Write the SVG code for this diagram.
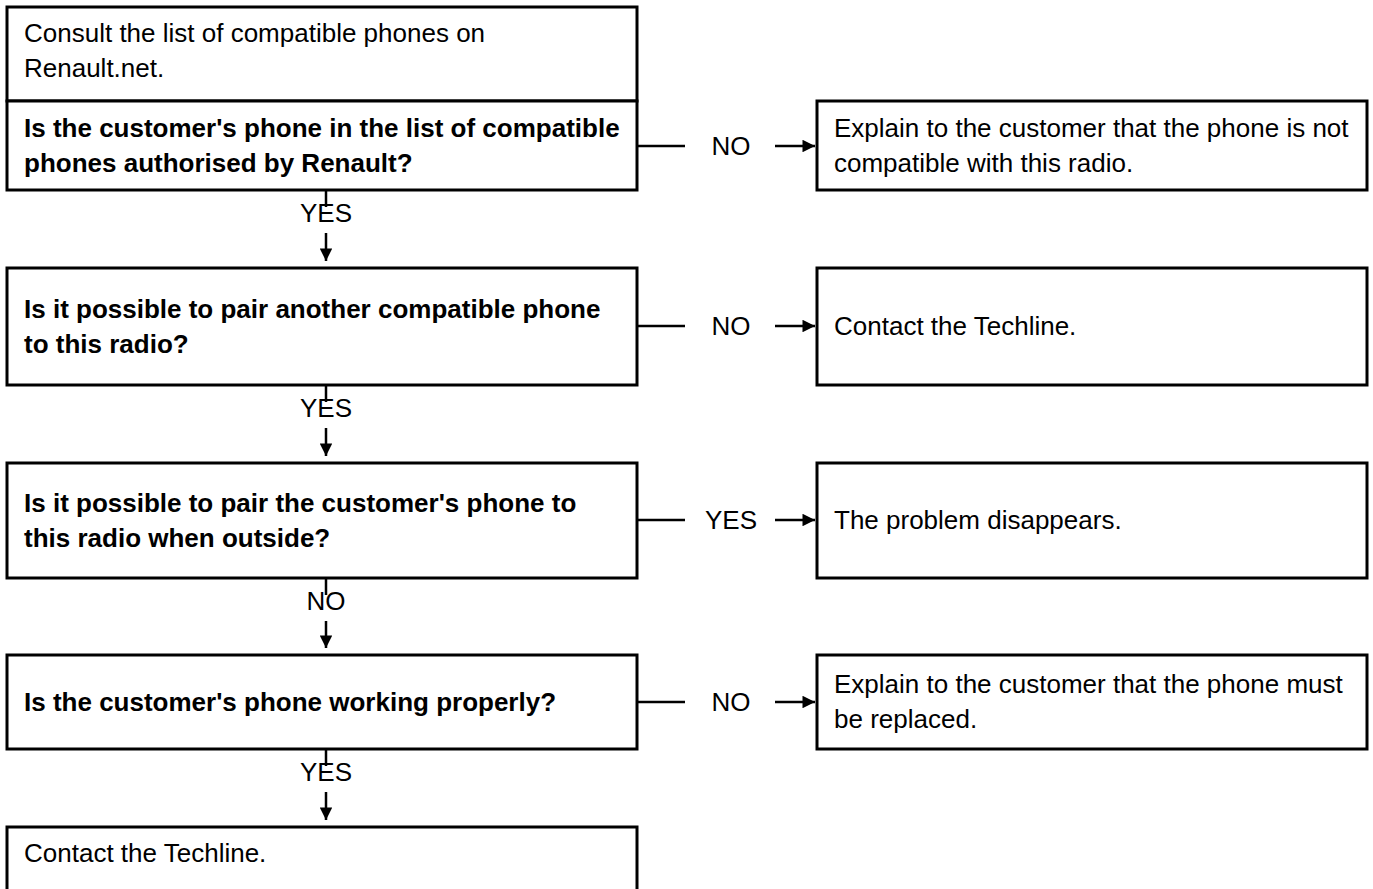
<svg xmlns="http://www.w3.org/2000/svg" width="1373" height="889" viewBox="0 0 1373 889">
<defs>
<marker id="arr" viewBox="0 0 10 10" refX="10" refY="5" markerWidth="5.5" markerHeight="5" orient="auto" markerUnits="strokeWidth">
<path d="M0,0 L10,5 L0,10 z" fill="#000"/>
</marker>
<style>
.box{fill:#fff;stroke:#000;stroke-width:3}
.t{font-family:"Liberation Sans",Arial,sans-serif;font-size:26px;fill:#000}
.b{font-weight:bold}
.lbl{font-family:"Liberation Sans",Arial,sans-serif;font-size:26px;fill:#000;text-anchor:middle}
.ln{stroke:#000;stroke-width:2.5;fill:none}
</style>
</defs>
<rect width="1373" height="889" fill="#fff"/>
<g id="connectors">
<line class="ln" x1="637" y1="146" x2="685" y2="146"/>
<text class="lbl" x="731" y="155">NO</text>
<line class="ln" x1="775" y1="146" x2="815" y2="146" marker-end="url(#arr)"/>
<line class="ln" x1="326" y1="190" x2="326" y2="207"/>
<text class="lbl" x="326" y="222">YES</text>
<line class="ln" x1="326" y1="233" x2="326" y2="261" marker-end="url(#arr)"/>
<line class="ln" x1="637" y1="326" x2="685" y2="326"/>
<text class="lbl" x="731" y="335">NO</text>
<line class="ln" x1="775" y1="326" x2="815" y2="326" marker-end="url(#arr)"/>
<line class="ln" x1="326" y1="385" x2="326" y2="402"/>
<text class="lbl" x="326" y="417">YES</text>
<line class="ln" x1="326" y1="428" x2="326" y2="456" marker-end="url(#arr)"/>
<line class="ln" x1="637" y1="520" x2="685" y2="520"/>
<text class="lbl" x="731" y="529">YES</text>
<line class="ln" x1="775" y1="520" x2="815" y2="520" marker-end="url(#arr)"/>
<line class="ln" x1="326" y1="578" x2="326" y2="595"/>
<text class="lbl" x="326" y="610">NO</text>
<line class="ln" x1="326" y1="621" x2="326" y2="648" marker-end="url(#arr)"/>
<line class="ln" x1="637" y1="702" x2="685" y2="702"/>
<text class="lbl" x="731" y="711">NO</text>
<line class="ln" x1="775" y1="702" x2="815" y2="702" marker-end="url(#arr)"/>
<line class="ln" x1="326" y1="749" x2="326" y2="766"/>
<text class="lbl" x="326" y="781">YES</text>
<line class="ln" x1="326" y1="792" x2="326" y2="820" marker-end="url(#arr)"/>
</g>
<g id="n1"><rect class="box" x="7" y="7" width="630" height="94"/>
<text class="t" x="24" y="42">Consult the list of compatible phones on</text>
<text class="t" x="24" y="77">Renault.net.</text></g>
<g id="n2"><rect class="box" x="7" y="101" width="630" height="89"/>
<text class="t b" x="24" y="137">Is the customer's phone in the list of compatible</text>
<text class="t b" x="24" y="172">phones authorised by Renault?</text></g>
<g id="n3"><rect class="box" x="817" y="101" width="550" height="89"/>
<text class="t" x="834" y="137">Explain to the customer that the phone is not</text>
<text class="t" x="834" y="172">compatible with this radio.</text></g>
<g id="n4"><rect class="box" x="7" y="268" width="630" height="117"/>
<text class="t b" x="24" y="318">Is it possible to pair another compatible phone</text>
<text class="t b" x="24" y="353">to this radio?</text></g>
<g id="n5"><rect class="box" x="817" y="268" width="550" height="117"/>
<text class="t" x="834" y="335">Contact the Techline.</text></g>
<g id="n6"><rect class="box" x="7" y="463" width="630" height="115"/>
<text class="t b" x="24" y="512">Is it possible to pair the customer's phone to</text>
<text class="t b" x="24" y="547">this radio when outside?</text></g>
<g id="n7"><rect class="box" x="817" y="463" width="550" height="115"/>
<text class="t" x="834" y="529">The problem disappears.</text></g>
<g id="n8"><rect class="box" x="7" y="655" width="630" height="94"/>
<text class="t b" x="24" y="711">Is the customer's phone working properly?</text></g>
<g id="n9"><rect class="box" x="817" y="655" width="550" height="94"/>
<text class="t" x="834" y="693">Explain to the customer that the phone must</text>
<text class="t" x="834" y="728">be replaced.</text></g>
<g id="n10"><rect class="box" x="7" y="827" width="630" height="80"/>
<text class="t" x="24" y="862">Contact the Techline.</text></g>
</svg>
